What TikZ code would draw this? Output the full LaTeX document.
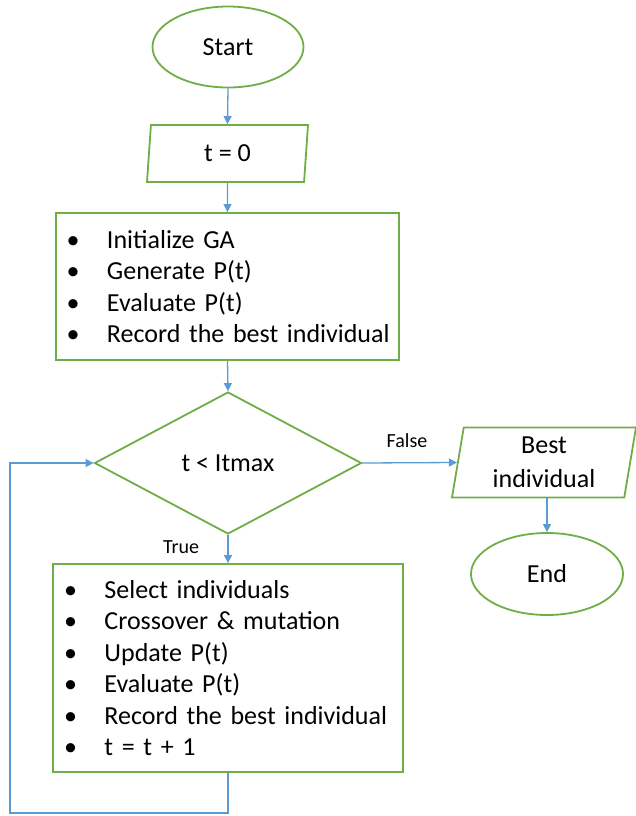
\documentclass[tikz,border=0pt]{standalone}
\usepackage{fontspec}
\setmainfont{Carlito}
\usetikzlibrary{shapes.geometric,arrows.meta}
\definecolor{boxgreen}{RGB}{112,173,71}
\definecolor{linkblue}{RGB}{91,155,213}
\newcommand{\fcitem}[1]{\mbox{\makebox[40.5pt][l]{•}#1}}
\tikzset{
  mainfont/.style={font=\fontsize{26}{31.5}\selectfont},
  termshape/.style={ellipse, draw=boxgreen, line width=1.8pt, mainfont, inner sep=0pt},
  ioshape/.style={trapezium, trapezium left angle=77, trapezium right angle=103,
    trapezium stretches body, draw=boxgreen, line width=1.8pt, mainfont, inner sep=0pt, align=center},
  procbox/.style={rectangle, draw=boxgreen, line width=1.8pt, mainfont, align=left,
    inner ysep=0pt},
  decshape/.style={diamond, draw=boxgreen, line width=1.8pt, mainfont, inner sep=0pt},
  link/.style={draw=linkblue, line width=1.3pt, -{Triangle[length=8pt,width=8pt]}},
  lbl/.style={font=\fontsize{20}{24}\selectfont, inner sep=0pt}
}
\begin{document}
\begin{tikzpicture}[x=1pt,y=-1pt]
\useasboundingbox (0,0) rectangle (635,816);
\node[termshape, minimum width=151pt, minimum height=81pt] (start) at (228,47) {Start};
\node[ioshape, minimum width=161pt, minimum height=57pt] (t0) at (227.5,153.5) {t = 0};
\node[procbox, text width=322pt, inner xsep=10.5pt, minimum height=147pt] (init) at (227.5,286.5)
  {\fcitem{Initialize GA}\\\fcitem{Generate P(t)}\\\fcitem{Evaluate P(t)}\\\fcitem{Record the best individual}};
\node[decshape, minimum width=267pt, minimum height=142pt] (cond) at (228,463) {t < Itmax};
\node[procbox, text width=328pt, inner xsep=11pt, minimum height=208pt] (loopbox) at (228,668)
  {\fcitem{Select individuals}\\\fcitem{Crossover \& mutation}\\\fcitem{Update P(t)}\\\fcitem{Evaluate P(t)}\\\fcitem{Record the best individual}\\\fcitem{t = t + 1}};
\node[ioshape, minimum width=184pt, minimum height=70pt, font=\fontsize{26}{34}\selectfont] (best) at (544,462.5) {Best\\individual};
\node[termshape, minimum width=152pt, minimum height=82pt] (stop) at (547,574) {End};
\node[lbl] (lfalse) at (407,441) {False};
\node[lbl] (ltrue) at (181,547) {True};
\coordinate (loopb) at (10,813);
\draw[link] (start.south) -- (t0.north);
\draw[link] (t0.south) -- (init.north);
\draw[link] (init.south) -- (cond.north);
\draw[link] (cond.south) -- (loopbox.north);
\draw[link] (cond.east) -- (best.west);
\draw[link] (stop.north |- best.south) -- (stop.north);
\draw[link] (loopbox.south) |- (loopb) |- (cond.west);
\end{tikzpicture}
\end{document}
